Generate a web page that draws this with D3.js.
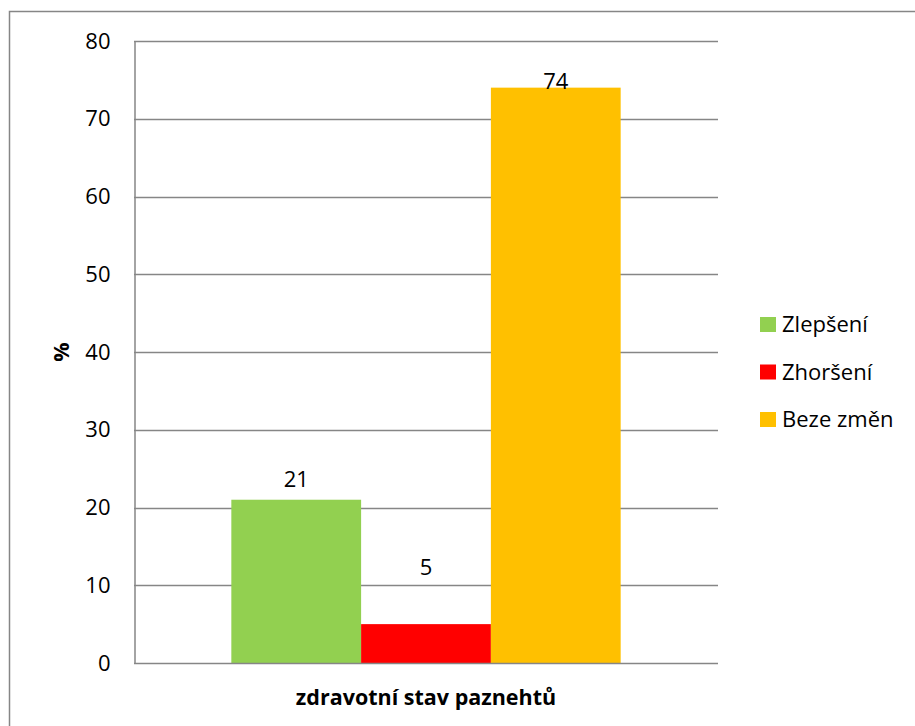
<!DOCTYPE html>
<html>
<head>
<meta charset="utf-8">
<script src="https://cdn.jsdelivr.net/npm/d3@7"></script>
<style>
  body { margin: 0; background: #fff; }
  svg { display: block; font-family: "Open Sans", sans-serif; }
</style>
</head>
<body>
<div id="chart"></div>
<script>
// data
const categories = ["zdravotní stav paznehtů"]
const seriesNames = ["Zlepšení", "Zhoršení", "Beze změn"]
const seriesValues = [21, 5, 74]
const seriesColors = ["#92D050", "#FF0000", "#FFC000"]
const yTicks = [0, 10, 20, 30, 40, 50, 60, 70, 80]

const width = 915
const height = 726
const margin = { top: 41, right: 197, bottom: 63, left: 134 }
const grey = "#868686"

const svg = d3.select("#chart")
  .append("svg")
  .attr("width", width)
  .attr("height", height)

// outer chart frame (runs off the picture at right / bottom)
svg.append("rect")
  .attr("x", 9.5).attr("y", 11.5)
  .attr("width", 1000).attr("height", 1000)
  .attr("fill", "none")
  .attr("stroke", grey)
  .attr("stroke-width", 1.5)

const x0 = d3.scaleBand()
  .domain(categories)
  .range([margin.left, width - margin.right])
  .paddingOuter(0.25)
  .paddingInner(0)
const x1 = d3.scaleBand()
  .domain(seriesNames)
  .range([0, x0.bandwidth()])
const y = d3.scaleLinear()
  .domain([0, 80])
  .range([height - margin.bottom, margin.top])

// grid lines
svg.append("g")
  .selectAll("line")
  .data(yTicks.filter(d => d > 0))
  .enter()
  .append("line")
  .attr("x1", margin.left)
  .attr("x2", width - margin.right)
  .attr("y1", d => Math.round(y(d)) + 0.5)
  .attr("y2", d => Math.round(y(d)) + 0.5)
  .attr("stroke", grey)
  .attr("stroke-width", 1.5)

// bars
const cat = categories[0]
svg.append("g")
  .selectAll("rect")
  .data(seriesValues)
  .enter()
  .append("rect")
  .attr("x", (d, i) => x0(cat) + x1(seriesNames[i]))
  .attr("width", x1.bandwidth())
  .attr("y", d => y(d))
  .attr("height", d => y(0) - y(d))
  .attr("fill", (d, i) => seriesColors[i])

// axes
const yAxis = d3.axisLeft(y).tickValues(yTicks).tickSize(0).tickPadding(24)
const gy = svg.append("g")
  .attr("transform", "translate(" + (margin.left + 0.5) + ",0)")
  .call(yAxis)
gy.select(".domain").attr("stroke", grey).attr("stroke-width", 1.5)
gy.selectAll("text")
  .attr("fill", "#000")
  .style("font-size", "22px")
  .style("font-family", "'Open Sans', sans-serif")

svg.append("line")
  .attr("x1", margin.left)
  .attr("x2", width - margin.right)
  .attr("y1", y(0) + 0.5)
  .attr("y2", y(0) + 0.5)
  .attr("stroke", grey)
  .attr("stroke-width", 1.5)

// value labels (Excel placed these by hand)
const labelShift = [-13, -49, 1]
svg.append("g")
  .selectAll("text")
  .data(seriesValues)
  .enter()
  .append("text")
  .attr("x", (d, i) => x0(cat) + x1(seriesNames[i]) + x1.bandwidth() / 2)
  .attr("y", (d, i) => y(d) + labelShift[i])
  .attr("text-anchor", "middle")
  .style("font-size", "22px")
  .text(d => d)

// axis titles
svg.append("text")
  .attr("x", x0(cat) + x0.bandwidth() / 2)
  .attr("y", 705)
  .attr("text-anchor", "middle")
  .style("font-size", "21.5px")
  .style("font-weight", "bold")
  .text(cat)

svg.append("text")
  .attr("transform", "translate(69," + y(40) + ") rotate(-90)")
  .attr("text-anchor", "middle")
  .style("font-size", "21.5px")
  .style("font-weight", "bold")
  .text("%")

// legend
const legend = svg.append("g")
  .selectAll("g")
  .data(seriesNames)
  .enter()
  .append("g")
  .attr("transform", (d, i) => "translate(760," + (317 + i * 47.5) + ")")
legend.append("rect")
  .attr("width", 16).attr("height", 15)
  .attr("fill", (d, i) => seriesColors[i])
legend.append("text")
  .attr("x", 22)
  .attr("y", 15)
  .style("font-size", "22px")
  .text(d => d)
</script>
</body>
</html>
